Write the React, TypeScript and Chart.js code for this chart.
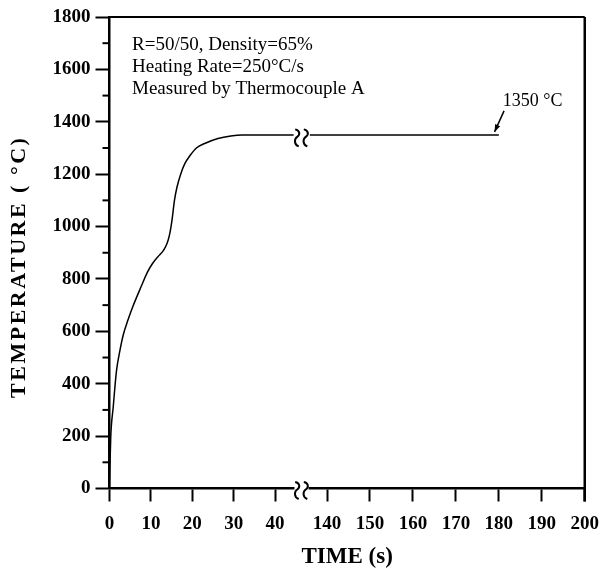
import React, { useEffect, useRef } from "react";
import { Chart, registerables } from "chart.js";

Chart.register(...registerables);

// ---- data ----
const timeEarly = [0, 0.15, 0.3, 0.9, 1.7, 2.5, 3.3, 4.5, 5.6, 7.6, 9.2, 10.4, 12.0, 13.0, 13.9, 14.5, 15.1, 15.7, 16.3, 17.2, 18.2, 19.5, 21.0, 23.0, 26.2, 29.3, 32.0, 44.5];
const tempEarly = [0, 110, 196, 311, 451, 525, 585, 645, 693, 769, 827, 859, 890, 908, 935, 968, 1024, 1100, 1150, 1200, 1240, 1272, 1300, 1317, 1336, 1346, 1350, 1350];
const timeLate = [136, 180];
const tempLate = [1350, 1350];
const xTickValues = [0, 10, 20, 30, 40, 140, 150, 160, 170, 180, 190, 200];
const yMin = 0;
const yMax = 1800;
const yMajorStep = 200;
const yMinorStep = 100;
const noteLines = ["R=50/50, Density=65%", "Heating Rate=250°C/s", "Measured by Thermocouple A"];
const peakLabel = "1350 °C";
const peakTime = 179;
const peakTemp = 1350;
const breakTime = 46.4; // position of the axis break (in the early-time units)
const xTitle = "TIME (s)";
const yTitle = "TEMPERATURE ( °C)";

// broken time axis: 0–46 is shown as is, 136–200 is shifted next to it
const lateStart = 52.57;
const lateScale = 1.038;
const toU = (t: number) => (t <= 90 ? t : lateStart + (t - 140) * lateScale);
const xMaxU = toU(200);

const SERIF = "'Liberation Serif', 'Times New Roman', serif";

function drawBreak(ctx: CanvasRenderingContext2D, cx: number, cy: number) {
  const h = 8.5;
  ctx.save();
  ctx.fillStyle = "#fff";
  ctx.fillRect(cx - 7, cy - 4, 14, 8);
  ctx.strokeStyle = "#000";
  ctx.lineWidth = 2;
  for (const dx of [-4.3, 4.3]) {
    const x = cx + dx;
    ctx.beginPath();
    ctx.moveTo(x - 2, cy - h + 1);
    ctx.bezierCurveTo(x + 3, cy - h + 2, x + 3, cy - 2, x, cy);
    ctx.bezierCurveTo(x - 3, cy + 2, x - 3.5, cy + h - 1, x + 1.5, cy + h + 1);
    ctx.stroke();
  }
  ctx.restore();
}

const extrasPlugin = {
  id: "extras",
  afterDraw(chart: any) {
    const { ctx, chartArea } = chart;
    const { left, right, top, bottom } = chartArea;
    const xs = chart.scales.x;
    const ys = chart.scales.y;
    ctx.save();
    ctx.strokeStyle = "#000";
    // frame top and right
    ctx.lineWidth = 2;
    ctx.beginPath();
    ctx.moveTo(left, top);
    ctx.lineTo(right, top);
    ctx.stroke();
    ctx.lineWidth = 2.5;
    ctx.beginPath();
    ctx.moveTo(right, top);
    ctx.lineTo(right, bottom + 13);
    ctx.stroke();
    // minor y ticks
    ctx.lineWidth = 2;
    for (let v = yMin + yMinorStep; v < yMax; v += yMajorStep) {
      const y = ys.getPixelForValue(v);
      ctx.beginPath();
      ctx.moveTo(left - 7, y);
      ctx.lineTo(left, y);
      ctx.stroke();
    }
    // axis break marks
    const bx = xs.getPixelForValue(toU(breakTime));
    drawBreak(ctx, bx, ys.getPixelForValue(0) + 1);
    drawBreak(ctx, bx, ys.getPixelForValue(peakTemp) + 2);

    // y axis title (drawn with letter spacing like the reference)
    ctx.fillStyle = "#000";
    ctx.save();
    ctx.translate(19, (top + bottom) / 2 + 14);
    ctx.rotate(-Math.PI / 2);
    ctx.font = `bold 22px ${SERIF}`;
    (ctx as any).letterSpacing = "2.5px";
    ctx.textAlign = "center";
    ctx.textBaseline = "middle";
    ctx.fillText(yTitle, 0, 0);
    ctx.restore();

    // notes
    ctx.font = `19px ${SERIF}`;
    ctx.textBaseline = "middle";
    ctx.textAlign = "left";
    noteLines.forEach((line, i) => {
      ctx.fillText(line, left + 22.5, top + 28.5 + i * 21.7);
    });

    // arrow + peak label
    const tipX = xs.getPixelForValue(toU(peakTime));
    const tipY = ys.getPixelForValue(peakTemp) - 3;
    const tailX = tipX + 9.5;
    const tailY = tipY - 21;
    ctx.lineWidth = 1.5;
    ctx.beginPath();
    ctx.moveTo(tailX, tailY);
    ctx.lineTo(tipX, tipY);
    ctx.stroke();
    const ang = Math.atan2(tipY - tailY, tipX - tailX);
    const al = 8;
    const aw = 0.35;
    ctx.beginPath();
    ctx.moveTo(tipX, tipY);
    ctx.lineTo(tipX - al * Math.cos(ang - aw), tipY - al * Math.sin(ang - aw));
    ctx.lineTo(tipX - al * Math.cos(ang + aw), tipY - al * Math.sin(ang + aw));
    ctx.closePath();
    ctx.fill();
    ctx.font = `18px ${SERIF}`;
    ctx.textAlign = "center";
    ctx.fillText(peakLabel, tipX + 38, tipY - 31);
    ctx.restore();
  },
};

export default function App() {
  const ref = useRef<HTMLCanvasElement | null>(null);
  useEffect(() => {
    if (!ref.current) return;
    const early = timeEarly.map((t, i) => ({ x: toU(t), y: tempEarly[i] }));
    const late = timeLate.map((t, i) => ({ x: toU(t), y: tempLate[i] }));
    const lineStyle = {
      borderColor: "#000",
      borderWidth: 1.5,
      pointRadius: 0,
      fill: false,
      cubicInterpolationMode: "monotone" as const,
    };
    const chart = new Chart(ref.current, {
      type: "line",
      data: {
        datasets: [
          { label: "early", data: early, ...lineStyle },
          { label: "late", data: late, ...lineStyle },
        ],
      },
      options: {
        animation: false,
        responsive: true,
        maintainAspectRatio: false,
        layout: { padding: { top: 17, right: 15.3, bottom: 0, left: 0 } },
        plugins: { legend: { display: false }, tooltip: { enabled: false } },
        scales: {
          x: {
            type: "linear",
            min: 0,
            max: xMaxU,
            afterBuildTicks: (s: any) => {
              s.ticks = xTickValues.map((v) => ({ value: toU(v) }));
            },
            afterFit: (s: any) => {
              s.height = 80.5;
            },
            ticks: {
              autoSkip: false,
              maxRotation: 0,
              padding: 11,
              color: "#000",
              font: { family: SERIF, size: 19, weight: "bold" },
              callback: (_v: any, i: number) => String(xTickValues[i]),
            },
            grid: {
              drawOnChartArea: false,
              drawTicks: true,
              tickLength: 13,
              tickWidth: 2,
              tickColor: "#000",
            },
            border: { display: true, color: "#000", width: 2.5 },
            title: {
              display: true,
              text: xTitle,
              color: "#000",
              font: { family: SERIF, size: 23, weight: "bold", lineHeight: 1 },
              padding: { top: 0, bottom: 0 },
            },
          },
          y: {
            type: "linear",
            min: yMin,
            max: yMax,
            afterFit: (s: any) => {
              s.width = 109.5;
            },
            ticks: {
              stepSize: yMajorStep,
              padding: 5,
              color: "#000",
              font: { family: SERIF, size: 19, weight: "bold" },
              callback: (v: any) => String(v),
            },
            grid: {
              drawOnChartArea: false,
              drawTicks: true,
              tickLength: 14,
              tickWidth: 2,
              tickColor: "#000",
            },
            border: { display: true, color: "#000", width: 2.5 },
            title: { display: false },
          },
        },
      },
      plugins: [extrasPlugin],
    });
    return () => chart.destroy();
  }, []);
  return (
    <div style={{ position: "fixed", left: 0, top: 0, width: 610, height: 569, background: "#fff" }}>
      <canvas ref={ref} />
    </div>
  );
}
